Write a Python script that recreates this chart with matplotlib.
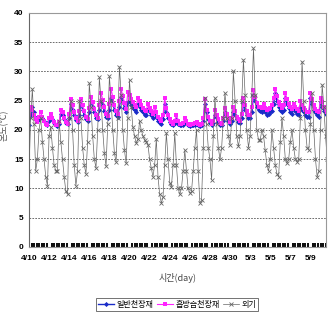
import numpy as np
import matplotlib.pyplot as plt
from matplotlib.ticker import MultipleLocator

plt.rcParams['font.family'] = ['Liberation Sans', 'Noto Sans CJK KR', 'DejaVu Sans']

# 6 readings per day (every 4 h), 4/10 - 5/10
normal = [  # 일반천장재
    20.9, 22.5, 24.0, 23.0, 22.0, 21.5,
    21.8, 22.3, 22.0, 21.5, 21.0, 20.8,
    21.5, 22.2, 21.8, 21.2, 20.8, 20.7,
    21.0, 22.8, 22.5, 21.8, 21.2, 21.0,
    22.0, 24.5, 23.5, 22.5, 21.7, 21.3,
    22.5, 24.5, 23.5, 22.5, 21.8, 21.5,
    23.0, 25.0, 24.0, 23.0, 22.0, 21.8,
    23.5, 25.0, 24.2, 23.2, 22.3, 22.0,
    23.5, 25.5, 24.5, 23.5, 22.6, 22.3,
    24.0, 25.7, 24.8, 23.8, 23.0, 24.8,
    25.0, 24.3, 23.8, 23.4, 23.1, 24.5,
    24.0, 23.4, 23.0, 22.6, 22.5, 23.6,
    23.0, 22.5, 22.0, 23.2, 22.3, 21.6,
    21.2, 21.0, 21.8, 24.5, 23.0, 22.0,
    21.4, 21.0, 20.8, 21.2, 21.8, 21.1,
    20.8, 20.8, 20.9, 21.4, 21.2, 20.8,
    20.7, 20.8, 20.8, 20.9, 21.0, 20.8,
    20.7, 20.8, 21.5, 24.5, 23.0, 21.9,
    21.2, 20.8, 21.2, 22.5, 22.0, 21.4,
    20.9, 20.8, 21.5, 23.0, 22.3, 21.6,
    21.0, 21.5, 23.0, 22.5, 21.8, 21.3,
    21.2, 22.0, 24.6, 23.5, 22.5, 22.0,
    22.0, 23.0, 26.0, 25.0, 24.0, 23.5,
    23.2, 23.0, 23.6, 23.0, 22.6, 22.8,
    23.0, 23.3, 24.5, 26.3, 25.0, 24.0,
    23.5, 23.0, 23.5, 25.5, 24.5, 23.8,
    23.0, 22.7, 23.8, 23.2, 22.8, 22.5,
    24.0, 23.5, 23.0, 22.6, 22.3, 22.2,
    25.5, 24.5, 23.5, 23.0, 22.5, 22.3,
    24.8, 24.0, 23.3, 22.8, 22.5, 22.3,
]
hygro = [  # 흡방습천장재
    22.5, 24.0, 23.5, 22.5, 21.8, 21.3,
    22.3, 23.0, 22.3, 21.6, 21.0, 20.9,
    22.0, 22.8, 22.0, 21.3, 20.9, 20.8,
    21.3, 23.5, 23.0, 22.0, 21.3, 21.0,
    22.8, 25.3, 24.2, 23.0, 22.0, 21.5,
    23.2, 25.3, 24.3, 23.2, 22.2, 21.8,
    23.8, 25.6, 24.8, 23.6, 22.5, 22.0,
    24.2, 26.3, 25.2, 24.0, 22.8, 22.4,
    24.5, 27.0, 25.6, 24.3, 23.2, 22.8,
    25.0, 27.0, 25.8, 24.6, 23.6, 26.5,
    26.0, 25.3, 24.8, 24.3, 24.0, 25.5,
    25.0, 24.3, 23.8, 23.4, 23.3, 24.5,
    23.8, 23.2, 22.7, 24.0, 23.0, 22.3,
    21.8, 21.5, 22.5, 25.4, 23.8, 22.5,
    21.8, 21.3, 21.0, 21.5, 22.5, 21.5,
    21.0, 21.0, 21.2, 22.0, 21.6, 21.0,
    20.9, 21.0, 21.0, 21.2, 21.3, 21.0,
    20.9, 21.0, 22.0, 25.3, 23.5, 22.3,
    21.5, 21.0, 21.5, 23.5, 22.5, 21.8,
    21.2, 21.0, 22.0, 23.7, 22.8, 22.0,
    21.3, 22.0, 24.0, 23.2, 22.3, 21.8,
    21.6, 22.8, 25.5, 24.3, 23.2, 22.6,
    22.5, 24.0, 26.8, 25.6, 24.6, 24.0,
    24.0, 23.8, 24.5, 23.8, 23.5, 23.6,
    23.8, 24.2, 25.5, 27.0, 25.8, 24.8,
    24.2, 23.8, 24.3, 26.4, 25.3, 24.5,
    24.0, 23.6, 24.5, 24.0, 23.6, 23.3,
    24.9, 24.3, 23.8, 23.4, 23.0, 23.0,
    26.3, 25.3, 24.3, 23.6, 23.2, 23.0,
    25.5, 24.8, 24.0, 23.4, 23.0, 22.8,
]
outdoor = [  # 외기
    13.0, 22.0, 27.0, 21.0, 13.0, 15.0,
    20.0, 22.0, 18.0, 15.0, 12.0, 10.5,
    19.0, 20.5, 17.0, 14.0, 13.0, 13.0,
    21.5, 18.0, 15.0, 12.0, 9.5, 9.0,
    22.0, 25.0, 20.0, 14.0, 10.5, 13.0,
    25.0, 22.0, 17.0, 14.0, 12.5, 18.0,
    28.0, 24.0, 19.0, 15.0, 13.5, 20.0,
    29.0, 25.0, 20.0, 16.0, 13.8, 21.0,
    29.2, 25.0, 20.0, 16.0, 14.5, 22.0,
    30.8, 26.0, 20.0, 16.5, 14.3, 22.0,
    28.5, 24.0, 20.5, 19.0, 17.7, 18.5,
    21.5, 20.0, 19.0, 18.3, 18.0, 17.5,
    15.0, 13.5, 12.0, 14.0, 18.5, 12.0,
    9.0, 7.5, 8.5, 14.0, 19.5, 15.0,
    11.0, 10.3, 14.0, 19.5, 14.0, 10.0,
    9.0, 10.0, 13.0, 16.5, 13.0, 10.0,
    9.2, 9.5, 13.0, 17.0, 20.0, 13.0,
    7.5, 8.0, 17.0, 25.5, 21.0, 17.0,
    15.0, 11.5, 19.0, 25.5, 21.0, 17.0,
    15.0, 17.0, 22.0, 26.3, 22.0, 19.0,
    17.5, 22.0, 30.0, 25.0, 19.0, 17.2,
    19.0, 25.0, 32.0, 26.0, 20.0, 17.0,
    19.0, 26.0, 34.0, 26.0, 20.0, 18.3,
    18.3, 20.0, 19.0, 16.5, 14.0, 13.0,
    15.0, 20.0, 17.0, 14.0, 12.5, 12.0,
    18.0, 22.0, 19.0, 15.0, 14.3, 15.0,
    18.0, 20.0, 17.0, 15.0, 14.6, 15.0,
    22.0, 31.7, 25.0, 20.0, 17.0, 16.6,
    21.0, 26.3, 20.0, 15.0, 12.0, 13.0,
    20.0, 27.7, 24.0, 19.0, 15.0, 14.0,
]
day_labels = ['4/10', '4/12', '4/14', '4/16', '4/18', '4/20', '4/22', '4/24',
              '4/26', '4/28', '4/30', '5/3', '5/5', '5/7', '5/9']

t = np.arange(len(outdoor)) / 6

fig = plt.figure(figsize=(3.31, 3.14), dpi=100)
ax = fig.add_axes([0.0876, 0.2134, 0.8974, 0.7452])

ax.plot(t, normal, color='#1a2cc8', lw=1.0, marker='D', ms=2.6, mew=0, label='일반천장재')
ax.plot(t, hygro, color='#ff22ff', lw=0.8, marker='s', ms=2.2, mew=0, label='흡방습천장재')
ax.plot(t, outdoor, color='#666666', lw=0.5, marker='x', ms=2.4, mew=0.6, label='외기')

ax.set_xlim(0, 29.55)
ax.set_ylim(0, 40)
ax.set_yticks(np.arange(0, 41, 5))
ax.set_xticks(np.arange(0, 2 * len(day_labels), 2))
ax.set_xticklabels(day_labels)
ax.xaxis.set_minor_locator(MultipleLocator(0.25))
ax.tick_params(axis='x', which='major', length=0, labelsize=6, pad=6)
ax.tick_params(axis='x', which='minor', direction='in', length=3, width=1.45, color='#111111')
ax.tick_params(axis='y', length=0, labelsize=6, pad=4)
for lab in ax.get_xticklabels() + ax.get_yticklabels():
    lab.set_fontweight('bold')
ax.grid(axis='y', color='#555555', ls=(0, (2, 1.5)), lw=0.6)
for s in ax.spines.values():
    s.set_color('#999999')
    s.set_linewidth(0.8)
ax.spines['left'].set_color('#666666')

fig.text(0.012, 0.6, '온도(℃)', rotation=90, ha='center', va='center',
         fontsize=6.5, color='#555555', family=['Noto Sans CJK KR', 'DejaVu Sans'])
fig.text(0.537, 0.116, '시간(day)', ha='center', va='center', fontsize=6.5,
         color='#444444', family=['Noto Sans CJK KR', 'DejaVu Sans'])

leg = fig.legend(loc='center', bbox_to_anchor=(0.535, 0.03), ncol=3,
                 frameon=True, fancybox=False, edgecolor='#333333', borderpad=0.3,
                 handlelength=2.0, handletextpad=0.3, columnspacing=0.4,
                 prop={'family': ['Noto Sans CJK KR', 'DejaVu Sans'], 'size': 5.8})
leg.get_frame().set_linewidth(0.6)

fig.savefig('out.png', dpi=100)
